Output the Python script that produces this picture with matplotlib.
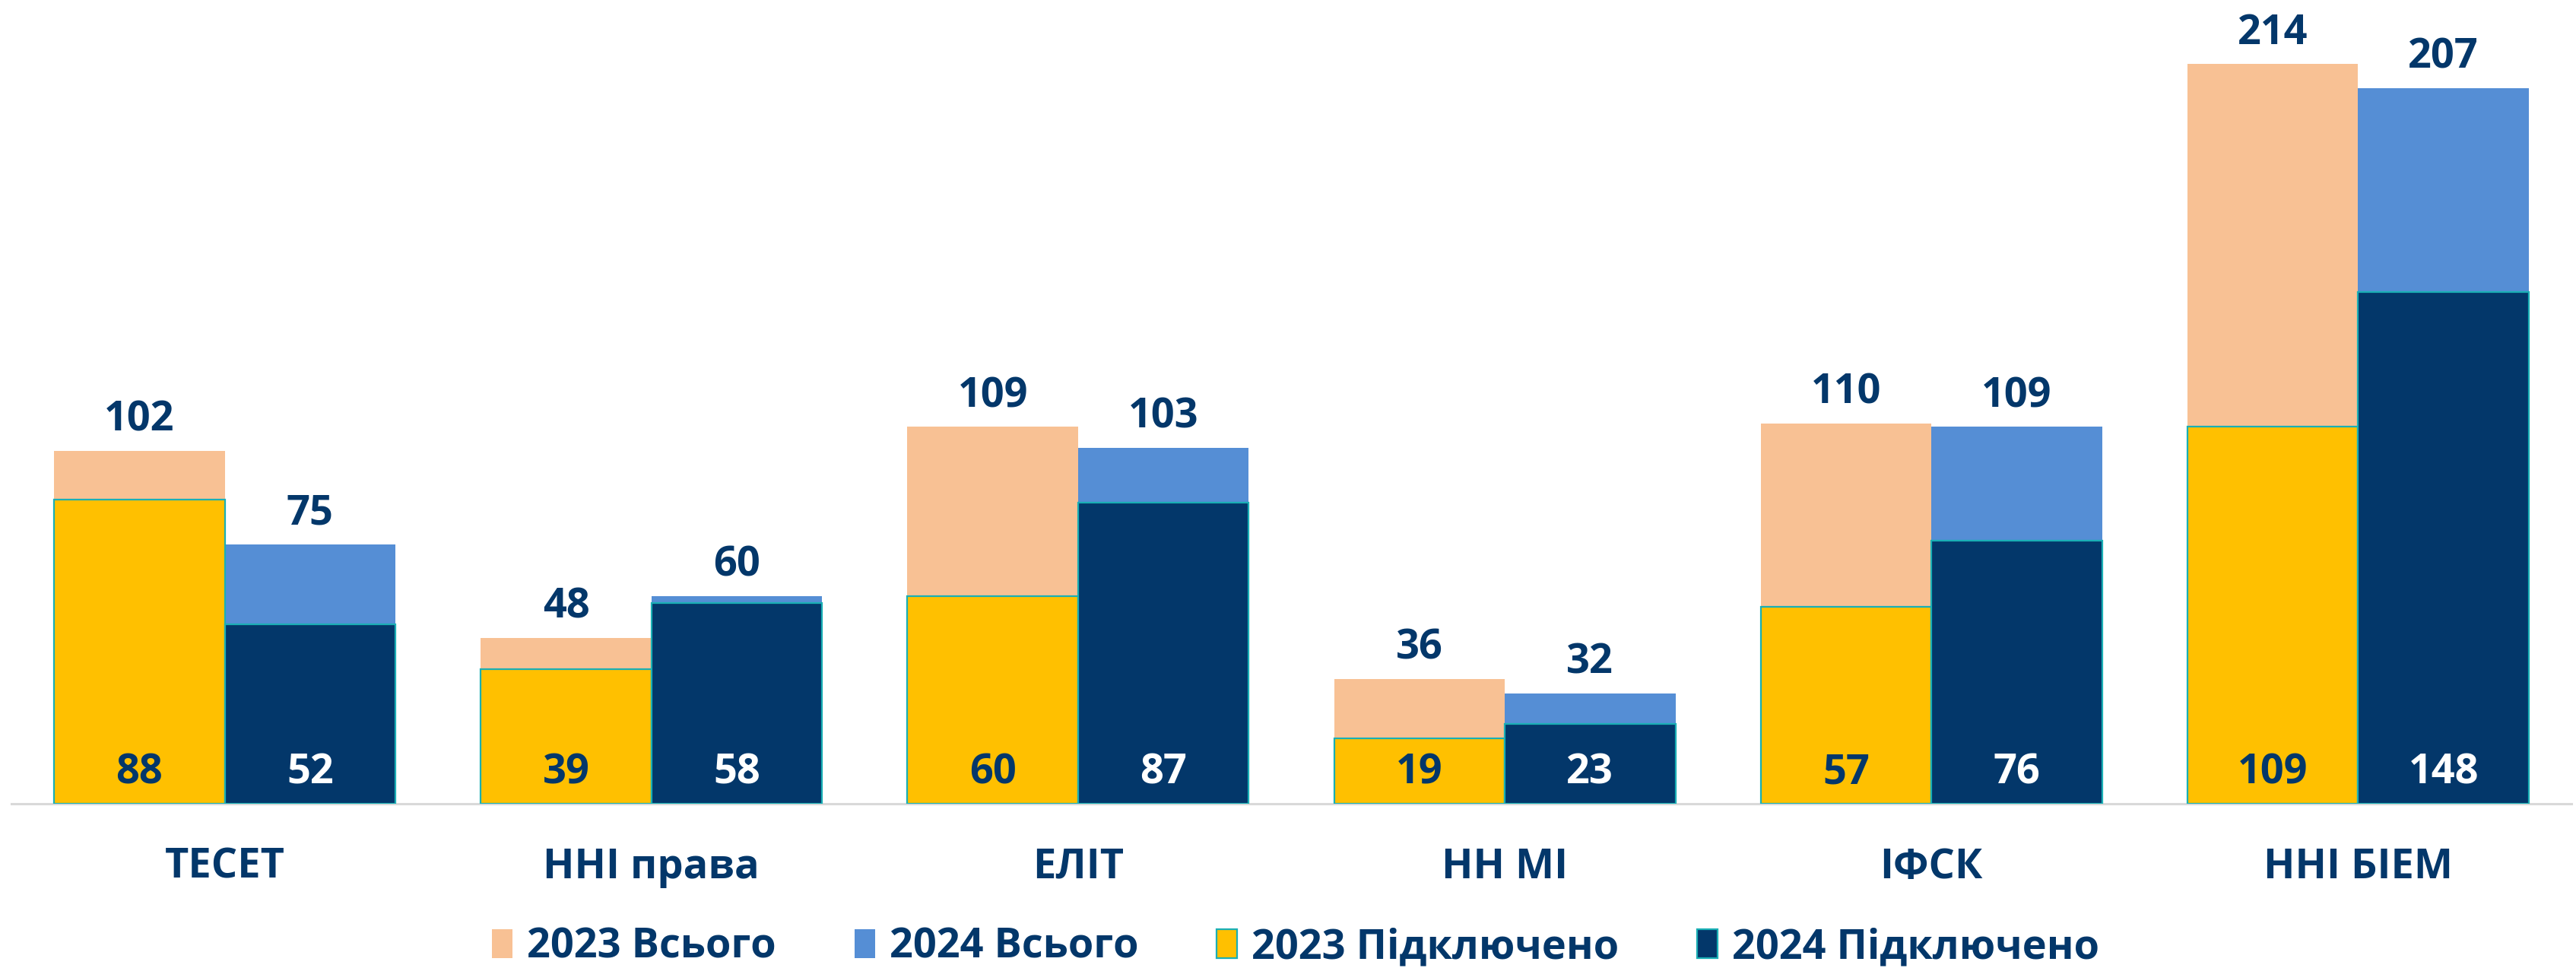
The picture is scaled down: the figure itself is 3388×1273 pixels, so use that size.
import matplotlib
matplotlib.use("Agg")
import matplotlib.pyplot as plt
from matplotlib.patches import Patch
import numpy as np

categories = ["ТЕСЕТ", "ННІ права", "ЕЛІТ", "НН МІ", "ІФСК", "ННІ БІЕМ"]
total_2023 = [102, 48, 109, 36, 110, 214]
total_2024 = [75, 60, 103, 32, 109, 207]
conn_2023 = [88, 39, 60, 19, 57, 109]
conn_2024 = [52, 58, 87, 23, 76, 148]
legend_labels = ["2023 Всього", "2024 Всього", "2023 Підключено", "2024 Підключено"]

C_PEACH = "#F8C194"
C_BLUE = "#558ED5"
C_GOLD = "#FFC000"
C_NAVY = "#03376A"
C_EDGE = "#1AAFB5"
C_TEXT = "#03376A"

plt.rcParams['font.family'] = ['Open Sans', 'DejaVu Sans']
FS = 39

fig = plt.figure(figsize=(33.88, 12.73), dpi=100)
ax = fig.add_axes([15/3388, 1 - 1057/1273, (3382-15)/3388, 1057/1273])

x = np.arange(len(categories))
w = 0.4
ax.bar(x - w/2, total_2023, width=w, color=C_PEACH, zorder=2)
ax.bar(x + w/2, total_2024, width=w, color=C_BLUE, zorder=2)
ax.bar(x - w/2, conn_2023, width=w, color=C_GOLD, edgecolor=C_EDGE, linewidth=1.6, zorder=3)
ax.bar(x + w/2, conn_2024, width=w, color=C_NAVY, edgecolor=C_EDGE, linewidth=1.6, zorder=3)

off = 19
for xi, v in zip(x - w/2, total_2023):
    ax.annotate(str(v), (xi, v), xytext=(0, off), textcoords='offset points',
                ha='center', va='baseline', fontsize=FS, fontweight='bold', color=C_TEXT)
for xi, v in zip(x + w/2, total_2024):
    ax.annotate(str(v), (xi, v), xytext=(0, off), textcoords='offset points',
                ha='center', va='baseline', fontsize=FS, fontweight='bold', color=C_TEXT)
for xi, v in zip(x - w/2, conn_2023):
    ax.annotate(str(v), (xi, 0), xytext=(0, off), textcoords='offset points',
                ha='center', va='baseline', fontsize=FS, fontweight='bold', color=C_TEXT, zorder=5)
for xi, v in zip(x + w/2, conn_2024):
    ax.annotate(str(v), (xi, 0), xytext=(0, off), textcoords='offset points',
                ha='center', va='baseline', fontsize=FS, fontweight='bold', color='white', zorder=5)

ax.set_xlim(-0.5, len(categories) - 0.5)
ax.set_ylim(0, 232.5)
ax.set_yticks([])
ax.set_xticks(x)
ax.set_xticklabels(categories, fontsize=FS, fontweight='bold', color=C_TEXT)
ax.tick_params(axis='x', length=0, pad=41)
for s in ['top', 'right', 'left']:
    ax.spines[s].set_visible(False)
ax.spines['bottom'].set_color('#D9D9D9')
ax.spines['bottom'].set_linewidth(2.2)
ax.spines['bottom'].set_zorder(1)
ax.patch.set_visible(False)

handles = [
    Patch(facecolor=C_PEACH, edgecolor='none'),
    Patch(facecolor=C_BLUE, edgecolor='none'),
    Patch(facecolor=C_GOLD, edgecolor=C_EDGE, linewidth=1.6),
    Patch(facecolor=C_NAVY, edgecolor=C_EDGE, linewidth=1.6),
]
leg = fig.legend(handles, legend_labels, loc='center', bbox_to_anchor=(0.503, 1 - 1246/1273),
                 ncol=4, frameon=False, prop={'size': FS, 'weight': 'bold'},
                 handlelength=0.5, handleheight=0.68, handletextpad=0.35, columnspacing=1.9)
for t in leg.get_texts():
    t.set_color(C_TEXT)

fig.savefig("out.png", dpi=100)
